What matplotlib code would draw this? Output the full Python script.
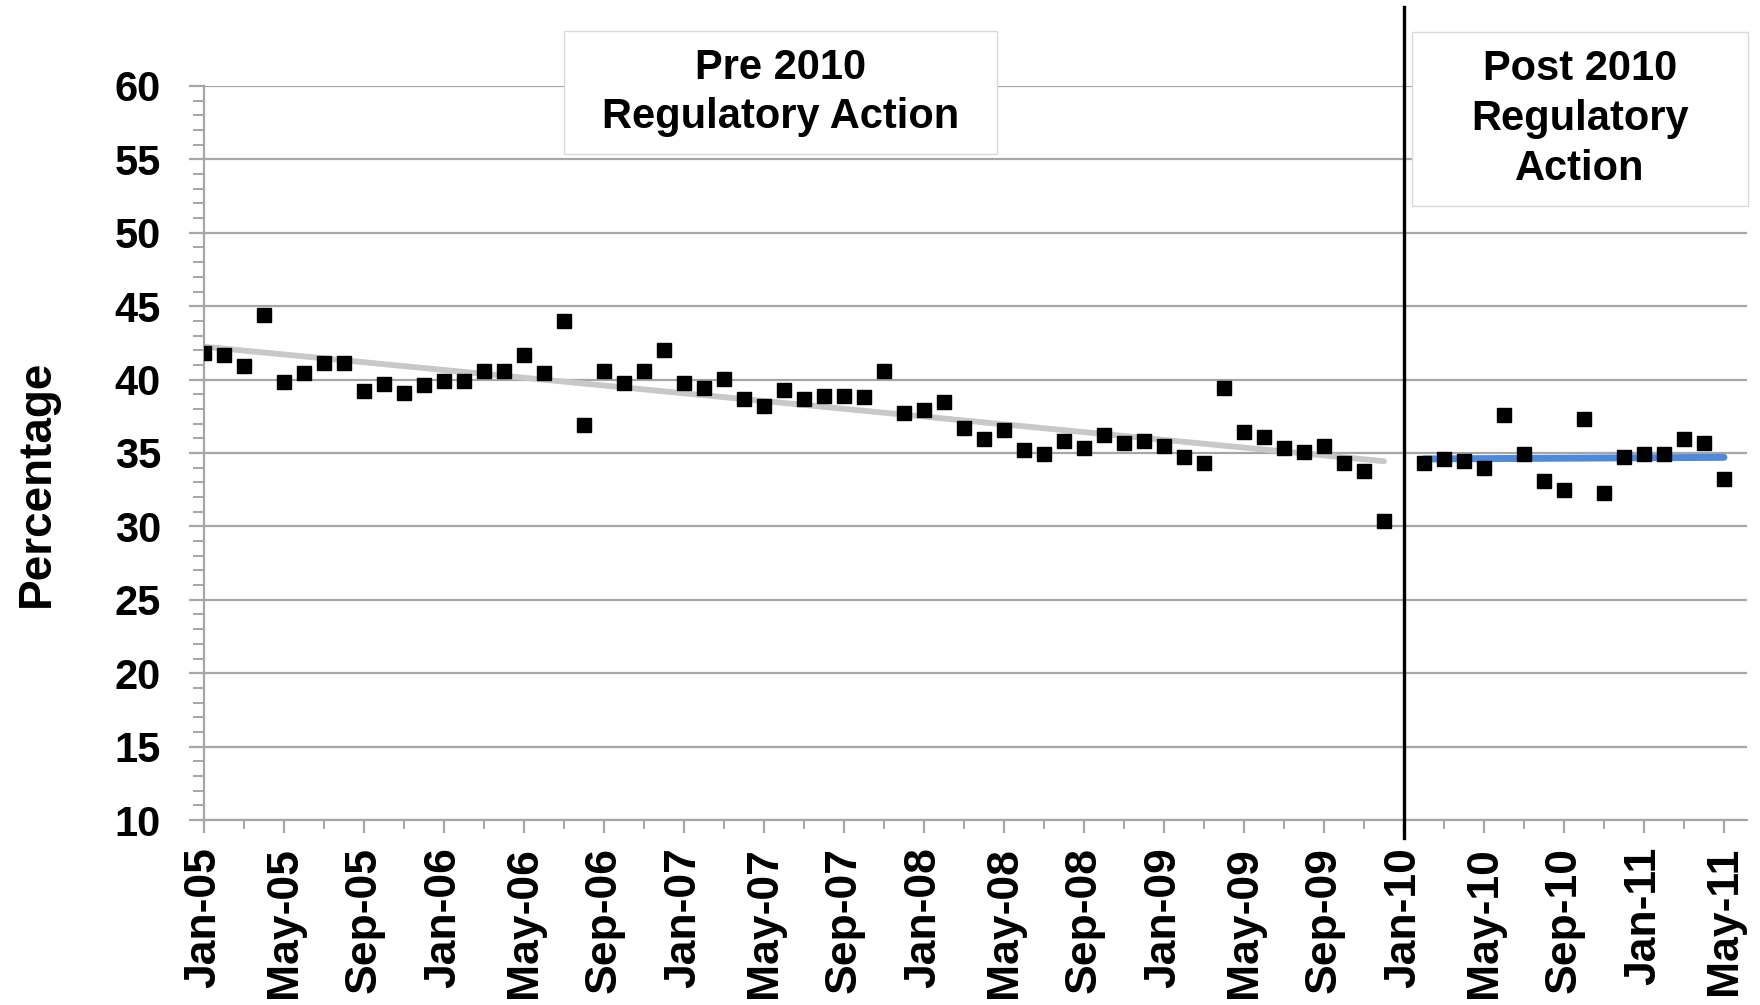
import matplotlib.pyplot as plt
import numpy as np
import pandas as pd
from matplotlib.patches import Rectangle
from matplotlib.ticker import MultipleLocator, FixedLocator

plt.rcParams['font.family'] = ['Liberation Sans', 'DejaVu Sans']
plt.rcParams['font.weight'] = 'bold'

# --- data (monthly percentages) ---
axis_start = '2005-01'
axis_end = '2011-05'
change_month = '2010-01'

pre_start = '2005-01'
pre_values = [41.8, 41.7, 40.9, 44.4, 39.85, 40.45, 41.1, 41.1, 39.25, 39.7,
              39.1, 39.6, 39.9, 39.9, 40.6, 40.6, 41.7, 40.45, 44.0, 36.9,
              40.6, 39.75, 40.6, 42.0, 39.75, 39.45, 40.05, 38.7, 38.2, 39.3,
              38.7, 38.9, 38.9, 38.8, 40.6, 37.7, 37.9, 38.5, 36.7, 35.95,
              36.55, 35.2, 34.9, 35.8, 35.35, 36.25, 35.7, 35.8, 35.5, 34.7,
              34.3, 39.45, 36.4, 36.1, 35.35, 35.05, 35.5, 34.3, 33.8, 30.35]

post_start = '2010-02'
post_values = [34.3, 34.6, 34.45, 34.0, 37.6, 34.9, 33.1, 32.5, 37.3, 32.3,
               34.7, 34.9, 34.9, 35.95, 35.7, 33.2]

y_ticks = [10, 15, 20, 25, 30, 35, 40, 45, 50, 55, 60]


def month_offset(p):
    return (pd.Period(p, 'M') - pd.Period(axis_start, 'M')).n


pre_x = np.arange(len(pre_values)) + month_offset(pre_start)
post_x = np.arange(len(post_values)) + month_offset(post_start)
change_x = month_offset(change_month)

all_months = pd.period_range(axis_start, axis_end, freq='M')
label_months = all_months[::4]
label_x = [month_offset(str(p)) for p in label_months]
tick_labels = [p.strftime('%b-%y') for p in label_months]

# linear trends (Excel style)
pre_fit = np.polyfit(pre_x, pre_values, 1)
post_fit = np.polyfit(post_x, post_values, 1)

# --- figure ---
W, H = 1760, 1005
fig = plt.figure(figsize=(W / 100, H / 100), dpi=100)
ax = fig.add_axes([204 / W, 1 - 820 / H, (1747 - 204) / W, (820 - 86) / H])

grid_c = '#a6a6a6'
ax.set_xlim(0, len(all_months) - 1 + 1.15)
ax.set_ylim(10, 60)

for v in y_ticks:
    ax.axhline(v, color=grid_c, lw=1.6, zorder=0)

ax.plot(pre_x[[0, -1]], np.polyval(pre_fit, pre_x[[0, -1]]),
        color='#c8c8c8', lw=4.2, solid_capstyle='round', zorder=2)
ax.plot(post_x[[0, -1]], np.polyval(post_fit, post_x[[0, -1]]),
        color='#4f89da', lw=5, solid_capstyle='round', zorder=2)

ax.plot(pre_x, pre_values, 's', color='black', ms=9.5, zorder=3)
ax.plot(post_x, post_values, 's', color='black', ms=9.5, zorder=3)

ax.axvline(change_x, ymin=-0.0245, ymax=1.1076, color='black', lw=2.4,
           clip_on=False, zorder=4)

for s in ['top', 'right']:
    ax.spines[s].set_visible(False)
for s in ['left', 'bottom']:
    ax.spines[s].set_color(grid_c)
    ax.spines[s].set_linewidth(1.6)

ax.set_yticks(y_ticks)
ax.yaxis.set_minor_locator(MultipleLocator(1))
ax.set_xticks(label_x)
ax.set_xticklabels(tick_labels, rotation=90)
ax.xaxis.set_minor_locator(FixedLocator(np.arange(0, len(all_months), 2)))

ax.tick_params(axis='y', which='major', length=11, width=1.6, color=grid_c,
               labelsize=30, pad=20)
ax.tick_params(axis='y', which='minor', length=8, width=1.4, color=grid_c)
ax.tick_params(axis='x', which='major', length=9.5, width=1.6, color=grid_c,
               labelsize=32, pad=10)
ax.tick_params(axis='x', which='minor', length=6.5, width=1.4, color=grid_c)

fig.text(37 / W, 1 - 483 / H, 'Percentage', rotation=90, ha='center',
         va='center', fontsize=33, fontweight='bold')


def label_box(x0, y0, x1, y1, text):
    fig.patches.append(Rectangle((x0 / W, 1 - y1 / H), (x1 - x0) / W,
                                 (y1 - y0) / H, transform=fig.transFigure,
                                 facecolor='white', edgecolor='#d9d9d9',
                                 lw=1, zorder=5))
    fig.text((x0 + x1) / 2 / W, 1 - (y0 + y1) / 2 / H, text, ha='center',
             va='center', fontsize=30, fontweight='bold', linespacing=1.32,
             zorder=6)


label_box(564, 31, 997, 154, 'Pre 2010\nRegulatory Action')
label_box(1412, 32, 1748, 206, 'Post 2010\nRegulatory\nAction')

fig.savefig('out.png', dpi=100)
